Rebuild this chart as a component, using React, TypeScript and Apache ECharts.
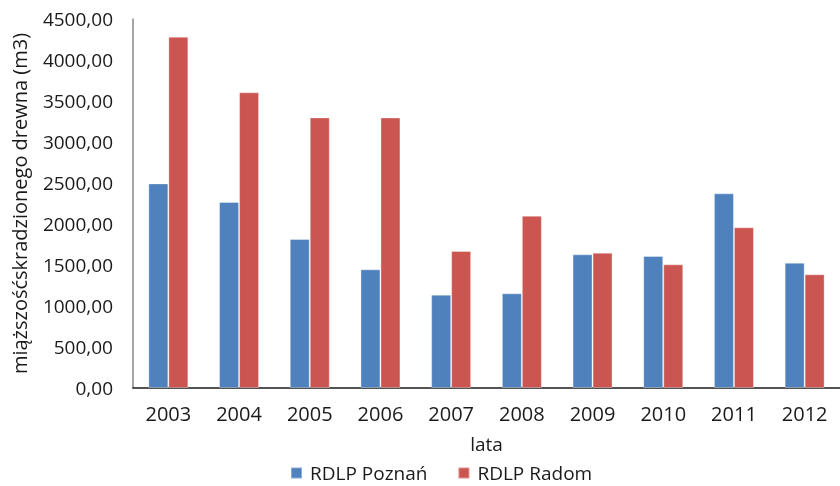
import React, { useEffect, useRef } from "react";
import * as echarts from "echarts";

const years = ["2003", "2004", "2005", "2006", "2007", "2008", "2009", "2010", "2011", "2012"];
const poznan = [2495, 2268, 1817, 1447, 1138, 1155, 1630, 1610, 2374, 1528];
const radom = [4284, 3606, 3300, 3300, 1671, 2101, 1650, 1508, 1960, 1387];
const seriesNames = ["RDLP Poznań", "RDLP Radom"];
const yTitle = "miąższośćskradzionego drewna (m3)";
const xTitle = "lata";

const FONT = "Open Sans";

export default function App() {
  const ref = useRef<HTMLDivElement>(null);
  useEffect(() => {
    if (!ref.current) return;
    const chart = echarts.init(ref.current, null, { renderer: "svg" });
    chart.setOption({
      animation: false,
      textStyle: { fontFamily: FONT },
      grid: { left: 133, right: -2, top: 19, bottom: 98, containLabel: false },
      legend: {
        left: 290,
        top: 463,
        padding: 0,
        itemWidth: 11,
        itemHeight: 11,
        itemGap: 30,
        icon: "rect",
        textStyle: { fontFamily: FONT, fontSize: 19, lineHeight: 20, color: "#1a1a1a", padding: [0, 0, 0, 3] },
        data: seriesNames,
      },
      xAxis: {
        type: "category",
        data: years,
        name: xTitle,
        nameLocation: "middle",
        nameGap: 46,
        nameTextStyle: { fontFamily: FONT, fontSize: 19, color: "#1a1a1a" },
        axisLine: { show: true, lineStyle: { color: "#1a1a1a", width: 1.5 } },
        axisTick: { show: false },
        axisLabel: { fontFamily: FONT, fontSize: 20, color: "#1a1a1a", margin: 15 },
        splitLine: { show: false },
      },
      yAxis: {
        type: "value",
        min: 0,
        max: 4500,
        interval: 500,
        name: yTitle,
        nameLocation: "middle",
        nameGap: 104,
        nameRotate: 90,
        nameTextStyle: { fontFamily: FONT, fontSize: 20, color: "#1a1a1a" },
        axisLine: { show: true, lineStyle: { color: "#888888", width: 1.5 } },
        axisTick: { show: false },
        splitLine: { show: false },
        axisLabel: {
          fontFamily: FONT,
          fontSize: 19,
          color: "#1a1a1a",
          margin: 20,
          formatter: (v: number) => v.toFixed(2).replace(".", ","),
        },
      },
      series: [
        {
          name: seriesNames[0],
          type: "bar",
          data: poznan,
          barWidth: 20,
          barGap: "0%",
          itemStyle: { color: "#4F81BD", borderColor: "rgba(255,255,255,0.35)", borderWidth: 1 },
        },
        {
          name: seriesNames[1],
          type: "bar",
          data: radom,
          barWidth: 20,
          barGap: "0%",
          itemStyle: { color: "#CB5651", borderColor: "rgba(255,255,255,0.35)", borderWidth: 1 },
        },
      ],
    });
    return () => chart.dispose();
  }, []);
  return (
    <div style={{ position: "fixed", left: 0, top: 0, width: 840, height: 486, overflow: "hidden" }}>
      <div ref={ref} style={{ width: 840, height: 486 }} />
    </div>
  );
}
